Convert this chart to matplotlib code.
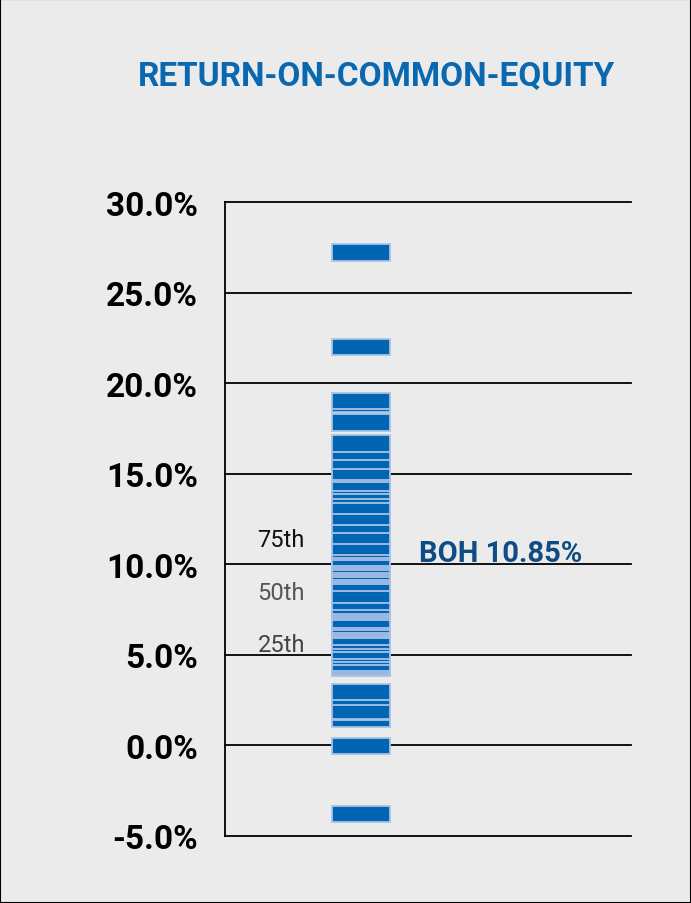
import matplotlib
matplotlib.use("Agg")
import matplotlib.pyplot as plt
from matplotlib.patches import Rectangle
import numpy as np

# ---- data ----
title = "RETURN-ON-COMMON-EQUITY"
roe_values = [27.23, 22.0, 19.01, 18.86, 17.81, 16.65, 16.21, 15.74, 15.09, 14.98,
              14.48, 14.32, 14.04, 13.85, 13.25, 12.62, 12.18, 11.56, 10.95, 10.81,
              10.70, 10.35, 10.23, 10.12, 9.99, 9.85, 9.74, 9.60, 9.48, 9.37,
              9.00, 8.32, 7.92, 7.71, 7.61, 7.50, 7.40, 6.96, 6.84, 6.69,
              6.58, 6.47, 6.37, 5.99, 5.80, 5.62, 5.25, 5.06, 4.88, 4.57,
              4.46, 4.36, 4.29, 2.95, 2.71, 1.94, 1.86, 1.48, -0.03, -3.78]
yticks = [-5, 0, 5, 10, 15, 20, 25, 30]
pct_labels = ["75th", "50th", "25th"]
pct_positions = [11.37, 8.44, 5.57]
company = "BOH"
company_value = 10.85

# ---- style ----
BG = "#ebebeb"
DARK = "#0066b3"
LIGHT = "#a9c1e6"
TITLE_C = "#0a68b0"
BOH_C = "#0f4c85"

W, H = 691, 904
fig = plt.figure(figsize=(W / 100, H / 100), dpi=100, facecolor=BG)
fig.patches.append(Rectangle((0, 0), 1, 1, transform=fig.transFigure, fill=False,
                             edgecolor="black", linewidth=1.5, zorder=10))

ax = fig.add_axes([225 / W, 1 - 837 / H, (631 - 225) / W, (837 - 203) / H])
ax.set_facecolor(BG)
ax.set_xlim(0, 1)
ax.set_ylim(-5, 30)
for s in ["top", "right", "bottom"]:
    ax.spines[s].set_visible(False)
ax.spines["left"].set_color("black")
ax.spines["left"].set_linewidth(1.3)

for t in yticks:
    ax.axhline(t, color="black", lw=1.3, zorder=1, clip_on=False)

ax.set_xticks([])
ax.set_yticks(yticks)
ax.set_yticklabels([f"{t:.1f}%" for t in yticks], fontsize=24, fontweight="bold",
                   family="Roboto")
ax.tick_params(axis="y", length=0, pad=19.5)
for lbl in ax.get_yticklabels():
    lbl.set_va("center_baseline")

bar_h = 0.92
x0, bw = 0.264, 0.142
for v in sorted(roe_values):
    ax.add_patch(Rectangle((x0, v - bar_h / 2), bw, bar_h, facecolor=DARK,
                           edgecolor=LIGHT, linewidth=1.3, zorder=3))

pct_colors = ["#111111", "#555555", "#444444"]
for lab, p, c in zip(pct_labels, pct_positions, pct_colors):
    ax.text(0.197, p, lab, ha="right", va="center", fontsize=17, color=c,
            family="Roboto")

ax.annotate(f"{company} {company_value:.2f}%", xy=(0.478, company_value),
            xytext=(0, -3), textcoords="offset points", ha="left", va="center",
            fontsize=21, fontweight="bold", color=BOH_C, family="Roboto")

fig.text(376 / W, 1 - 76 / H, title, ha="center", va="center", fontsize=24,
         fontweight="bold", color=TITLE_C, family="Roboto")

fig.savefig("out.png", dpi=100, facecolor=BG)
